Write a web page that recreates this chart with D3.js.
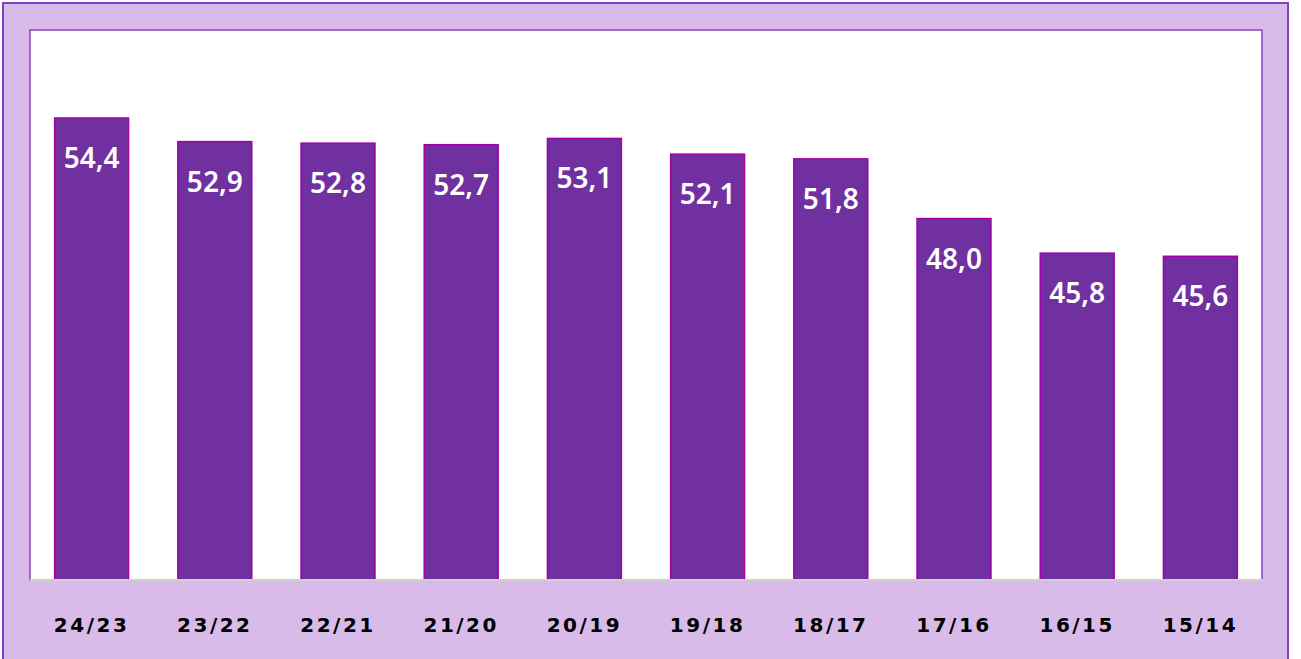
<!DOCTYPE html>
<html>
<head>
<meta charset="utf-8">
<script src="https://cdn.jsdelivr.net/npm/d3@7"></script>
<style>
  body { margin: 0; background: #ffffff; }
</style>
</head>
<body>
<div id="chart"></div>
<script>
// seasons, newest first
let seasons = ["24/23", "23/22", "22/21", "21/20", "20/19", "19/18", "18/17", "17/16", "16/15", "15/14"];
let values = [54.4, 52.9, 52.8, 52.7, 53.1, 52.1, 51.8, 48.0, 45.8, 45.6];
let yDomain = [25, 60];

let width = 1301, height = 659;
let plot = {left: 30, top: 30, right: 1262, bottom: 580};

let svg = d3.select("#chart")
    .append("svg")
    .attr("width", width)
    .attr("height", height);

// outer frame
svg.append("rect")
    .attr("x", 3).attr("y", 3)
    .attr("width", 1285).attr("height", 670)
    .attr("fill", "#d8bbe9")
    .attr("stroke", "#7f3fbf")
    .attr("stroke-width", 2);

// plot area
svg.append("rect")
    .attr("x", plot.left).attr("y", plot.top)
    .attr("width", plot.right - plot.left).attr("height", plot.bottom - plot.top)
    .attr("fill", "#ffffff")
    .attr("stroke", "#8a3fc8")
    .attr("stroke-width", 1.5);

let x = d3.scaleBand()
    .domain(seasons)
    .range([plot.left, plot.right])
    .paddingInner(0.4)
    .paddingOuter(0.2);

let y = d3.scaleLinear()
    .domain(yDomain)
    .range([plot.bottom, plot.top]);

let data = seasons.map((s, i) => ({season: s, value: values[i]}));

svg.selectAll("rect.bar")
    .data(data)
    .enter()
    .append("rect")
    .attr("class", "bar")
    .attr("x", d => x(d.season))
    .attr("y", d => y(d.value))
    .attr("width", x.bandwidth())
    .attr("height", d => y(yDomain[0]) - y(d.value))
    .attr("fill", "#7030a0")
    .attr("stroke", "#a000a8")
    .attr("stroke-width", 1.5);

// axis baseline
svg.append("line")
    .attr("x1", plot.left).attr("x2", plot.right + 1)
    .attr("y1", plot.bottom).attr("y2", plot.bottom)
    .attr("stroke", "#cfcfcf")
    .attr("stroke-width", 2);

// value labels
svg.selectAll("text.val")
    .data(data)
    .enter()
    .append("text")
    .attr("class", "val")
    .attr("x", d => x(d.season) + x.bandwidth() / 2)
    .attr("y", d => y(d.value) + 50)
    .attr("text-anchor", "middle")
    .attr("fill", "#ffffff")
    .style("font-family", "'Noto Sans', sans-serif")
    .style("font-weight", 600)
    .style("font-size", "28px")
    .text(d => d.value.toFixed(1).replace(".", ","));

// category labels
let xAxis = svg.append("g")
    .attr("transform", `translate(0, ${plot.bottom})`)
    .call(d3.axisBottom(x).tickSize(0).tickPadding(38));
xAxis.select(".domain").remove();
xAxis.selectAll("text")
    .attr("fill", "#000000")
    .style("font-family", "'DejaVu Sans', sans-serif")
    .style("font-weight", "bold")
    .style("font-size", "20px")
    .style("letter-spacing", "2.5px");
</script>
</body>
</html>
